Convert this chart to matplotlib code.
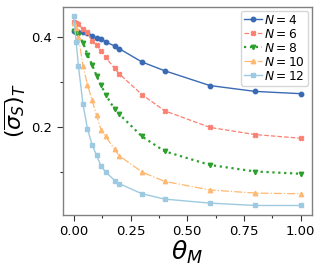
import numpy as np
import matplotlib
matplotlib.use('Agg')
import matplotlib.pyplot as plt
from matplotlib.ticker import MultipleLocator

theta = [0, 0.01, 0.02, 0.04, 0.06, 0.08, 0.1, 0.12, 0.14, 0.18, 0.2, 0.3, 0.4, 0.6, 0.8, 1.0]

s_n4 = [0.413, 0.411, 0.410, 0.409, 0.408, 0.4015, 0.396, 0.395, 0.388, 0.379, 0.373, 0.3435, 0.324, 0.291, 0.278, 0.273]
s_n6 = [0.433, 0.430, 0.4275, 0.416, 0.409, 0.389, 0.381, 0.368, 0.354, 0.329, 0.317, 0.271, 0.235, 0.198, 0.182, 0.174]
s_n8 = [0.4126, 0.410, 0.4037, 0.3866, 0.360, 0.3375, 0.313, 0.2915, 0.271, 0.238, 0.2275, 0.178, 0.145, 0.1145, 0.100, 0.095]
s_n10 = [0.430, 0.420, 0.400, 0.335, 0.293, 0.259, 0.2245, 0.193, 0.178, 0.149, 0.135, 0.099, 0.078, 0.059, 0.052, 0.0505]
s_n12 = [0.4446, 0.388, 0.335, 0.250, 0.195, 0.160, 0.136, 0.112, 0.099, 0.080, 0.073, 0.0506, 0.0387, 0.0297, 0.0245, 0.0245]

fig, ax = plt.subplots(figsize=(3.24, 2.7), dpi=100)

ax.plot(theta, s_n4, '-', marker='o', color='#3a6ab4', ms=3.2, lw=1.0, label='$N = 4$')
ax.plot(theta, s_n6, '--', marker='X', color='#fa8072', ms=3.2, lw=0.9, label='$N = 6$')
ax.plot(theta, s_n8, ':', marker='v', color='#2ca02c', ms=3.2, lw=1.6, label='$N = 8$')
ax.plot(theta, s_n10, '-.', marker='^', color='#ffb870', ms=3.2, lw=0.9, label='$N = 10$')
ax.plot(theta, s_n12, '-', marker='s', color='#9ecae1', ms=3.2, lw=1.0, label='$N = 12$')

ax.set_xlabel(r'$\theta_M$', fontsize=18, labelpad=0)
ax.set_ylabel(r'$(\overline{\sigma_S})_T$', fontsize=16, labelpad=2)
ax.xaxis.set_major_locator(MultipleLocator(0.25))
ax.xaxis.set_minor_locator(MultipleLocator(0.125))
ax.yaxis.set_major_locator(MultipleLocator(0.2))
ax.yaxis.set_minor_locator(MultipleLocator(0.1))
ax.tick_params(labelsize=9.5, length=4, width=0.8, color='#333333')
ax.tick_params(which='minor', length=2.5, width=0.8, color='#333333')
for sp in ax.spines.values():
    sp.set_color('#808080')
    sp.set_linewidth(1.0)

leg = ax.legend(loc='upper right', fontsize=8.8, handlelength=1.5, handletextpad=0.2,
                labelspacing=0.08, borderpad=0.25, borderaxespad=0.3)

fig.subplots_adjust(left=0.193, right=0.963, top=0.974, bottom=0.204)
fig.savefig('out.png', dpi=100)
